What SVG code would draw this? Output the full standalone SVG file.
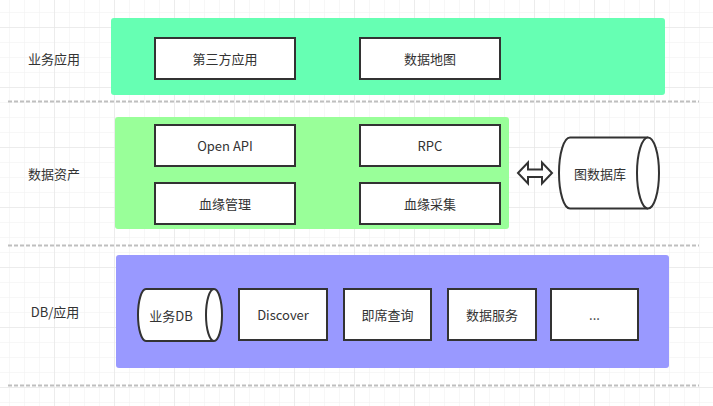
<svg xmlns="http://www.w3.org/2000/svg" width="713" height="406" viewBox="0 0 713 406">
  <defs>
    <pattern id="minor" x="9" y="12" width="15" height="15" patternUnits="userSpaceOnUse">
      <path d="M 0 0 L 15 0 M 0 0 L 0 15" fill="none" stroke="#f0f0f0" stroke-width="1"/>
    </pattern>
    <pattern id="major" x="54" y="27" width="60" height="60" patternUnits="userSpaceOnUse">
      <path d="M 0 0 L 60 0 M 0 0 L 0 60" fill="none" stroke="#e2e2e2" stroke-width="1"/>
    </pattern>
    <style>
      .band { stroke: none; }
      .box { fill: #ffffff; stroke: #333333; stroke-width: 2; }
      .txt { font-family: "Noto Sans CJK SC", "Liberation Sans", sans-serif; font-size: 13px; fill: #333333; text-anchor: middle; dominant-baseline: central; }
      .sep { stroke: #bfbfbf; stroke-width: 2; stroke-dasharray: 4 2; fill: none; }
    </style>
  </defs>
  <rect x="0" y="0" width="713" height="406" fill="#ffffff"/>
  <rect x="0" y="0" width="713" height="406" fill="url(#minor)"/>
  <rect x="0" y="0" width="713" height="406" fill="url(#major)"/>

  <g id="separators">
    <line class="sep" x1="8" y1="101.5" x2="699" y2="101.5"/>
    <line class="sep" x1="8" y1="245.5" x2="699" y2="245.5"/>
    <line class="sep" x1="8" y1="385.5" x2="699" y2="385.5"/>
  </g>

  <g id="layer-labels">
    <text class="txt" x="54" y="58">业务应用</text>
    <text class="txt" x="54" y="173">数据资产</text>
    <text class="txt" x="55" y="311">DB/应用</text>
  </g>

  <g id="band-business">
    <rect class="band" x="111" y="18" width="554" height="77" rx="3" fill="#66FFB3"/>
  </g>
  <g id="band-assets">
    <rect class="band" x="115" y="117" width="394" height="112" rx="3" fill="#99FF99"/>
  </g>
  <g id="band-db">
    <rect class="band" x="116" y="255" width="553" height="113" rx="3" fill="#9999FF"/>
  </g>

  <g id="node-third-party">
    <rect class="box" x="155" y="38" width="140" height="41"/>
    <text class="txt" x="225" y="58.5">第三方应用</text>
  </g>
  <g id="node-data-map">
    <rect class="box" x="360" y="38" width="140" height="41"/>
    <text class="txt" x="430" y="58.5">数据地图</text>
  </g>

  <g id="node-open-api">
    <rect class="box" x="155" y="125" width="140" height="41"/>
    <text class="txt" x="225" y="145.5">Open API</text>
  </g>
  <g id="node-rpc">
    <rect class="box" x="360" y="125" width="140" height="41"/>
    <text class="txt" x="430" y="145.5">RPC</text>
  </g>
  <g id="node-lineage-mgmt">
    <rect class="box" x="155" y="183" width="140" height="41"/>
    <text class="txt" x="225" y="203.5">血缘管理</text>
  </g>
  <g id="node-lineage-collect">
    <rect class="box" x="360" y="183" width="140" height="41"/>
    <text class="txt" x="430" y="203.5">血缘采集</text>
  </g>

  <g id="node-graph-db">
    <path class="box" d="M 570 137.5 L 648 137.5 A 11 35.5 0 0 1 648 208.5 L 570 208.5 A 11 35.5 0 0 1 570 137.5 Z"/>
    <path class="box" fill="none" d="M 648 137.5 A 11 35.5 0 0 0 648 208.5"/>
    <text class="txt" x="600" y="173">图数据库</text>
  </g>

  <g id="node-biz-db">
    <path class="box" d="M 146 289 L 214 289 A 8 26 0 0 1 214 341 L 146 341 A 8 26 0 0 1 146 289 Z"/>
    <path class="box" fill="none" d="M 214 289 A 8 26 0 0 0 214 341"/>
    <text class="txt" x="171" y="315">业务DB</text>
  </g>
  <g id="node-discover">
    <rect class="box" x="239" y="289" width="88" height="51"/>
    <text class="txt" x="283" y="314.5">Discover</text>
  </g>
  <g id="node-adhoc">
    <rect class="box" x="344" y="289" width="87" height="51"/>
    <text class="txt" x="387.5" y="314.5">即席查询</text>
  </g>
  <g id="node-data-service">
    <rect class="box" x="448" y="289" width="88" height="51"/>
    <text class="txt" x="492" y="314.5">数据服务</text>
  </g>
  <g id="node-more">
    <rect class="box" x="551" y="289" width="87" height="51"/>
    <text class="txt" x="594.5" y="314.5">...</text>
  </g>

  <g id="connectors">
    <polygon class="box" points="518,173 528,162.5 528,169.5 542,169.5 542,162.5 552,173 542,183.5 542,177 528,177 528,183.5"/>
  </g>
</svg>
